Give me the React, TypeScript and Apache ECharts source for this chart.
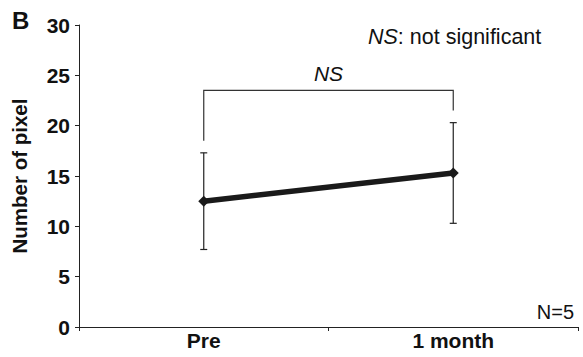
import React, { useEffect, useRef } from "react";
import * as echarts from "echarts";

const categories = ["Pre", "1 month"];
const means = [12.5, 15.3];
const sds = [4.8, 5.0];
const yTicks = [0, 5, 10, 15, 20, 25, 30];
// bracket: [leftCat, rightCat, leftBottom, rightBottom, top]
const bracket = [[0, 1, 18.5, 21.5, 23.5]];
const bracketLabel = "NS";

const FONT = '"Liberation Sans", Arial, Helvetica, sans-serif';

export default function App() {
  const ref = useRef<HTMLDivElement>(null);
  useEffect(() => {
    if (!ref.current) return;
    const chart = echarts.init(ref.current, undefined, { renderer: "svg" });
    const errData = means.map((m, i) => [i, m - sds[i], m + sds[i]]);
    chart.setOption({
      animation: false,
      backgroundColor: "#fff",
      textStyle: { fontFamily: FONT },
      grid: { left: 79, right: 5, top: 25, bottom: 30, containLabel: false },
      xAxis: {
        type: "category",
        data: categories,
        boundaryGap: true,
        axisLine: { lineStyle: { color: "#222", width: 1 } },
        axisTick: { show: true, length: 4, lineStyle: { color: "#222" } },
        axisLabel: {
          color: "#111",
          fontSize: 21,
          fontWeight: "bold",
          fontFamily: FONT,
          margin: 3,
        },
        splitLine: { show: false },
      },
      yAxis: {
        type: "value",
        min: yTicks[0],
        max: yTicks[yTicks.length - 1],
        interval: 5,
        name: "Number of pixel",
        nameLocation: "middle",
        nameGap: 49,
        nameTextStyle: {
          color: "#111",
          fontSize: 20.5,
          fontWeight: "bold",
          fontFamily: FONT,
        },
        axisLine: { show: true, lineStyle: { color: "#222", width: 1 } },
        axisTick: { show: true, length: 4, lineStyle: { color: "#222" } },
        axisLabel: {
          color: "#111",
          fontSize: 21,
          fontWeight: "bold",
          fontFamily: FONT,
          margin: 9,
        },
        splitLine: { show: false },
      },
      series: [
        {
          type: "custom",
          data: errData,
          z: 1,
          renderItem: (params: any, api: any) => {
            const x = api.value(0);
            const lo = api.coord([x, api.value(1)]);
            const hi = api.coord([x, api.value(2)]);
            const cw = 3.5;
            const style = { stroke: "#222", lineWidth: 1.2 };
            return {
              type: "group",
              children: [
                { type: "line", shape: { x1: lo[0], y1: lo[1], x2: hi[0], y2: hi[1] }, style },
                { type: "line", shape: { x1: lo[0] - cw, y1: lo[1], x2: lo[0] + cw, y2: lo[1] }, style },
                { type: "line", shape: { x1: hi[0] - cw, y1: hi[1], x2: hi[0] + cw, y2: hi[1] }, style },
              ],
            };
          },
        },
        {
          type: "line",
          data: means,
          z: 3,
          symbol: "diamond",
          symbolSize: 11,
          lineStyle: { color: "#1a1a1a", width: 5.5 },
          itemStyle: { color: "#1a1a1a" },
        },
        {
          type: "custom",
          data: bracket,
          z: 2,
          renderItem: (params: any, api: any) => {
            const l = api.value(0);
            const r = api.value(1);
            const pLB = api.coord([l, api.value(2)]);
            const pLT = api.coord([l, api.value(4)]);
            const pRT = api.coord([r, api.value(4)]);
            const pRB = api.coord([r, api.value(3)]);
            return {
              type: "group",
              children: [
                {
                  type: "polyline",
                  shape: { points: [pLB, pLT, pRT, pRB] },
                  style: { stroke: "#333", lineWidth: 1.2, fill: "none" },
                },
                {
                  type: "text",
                  x: (pLT[0] + pRT[0]) / 2,
                  y: pLT[1] - 6,
                  style: {
                    text: bracketLabel,
                    fontSize: 21,
                    fontStyle: "italic",
                    fontFamily: FONT,
                    fill: "#111",
                    align: "center",
                    verticalAlign: "bottom",
                  },
                },
              ],
            };
          },
        },
      ],
      graphic: [
        {
          type: "text",
          left: 12,
          top: 8,
          style: { text: "B", fontSize: 24, fontWeight: "bold", fontFamily: FONT, fill: "#111" },
        },
        {
          type: "text",
          left: 368,
          top: 26,
          style: {
            rich: {
              i: { fontSize: 21.5, fontStyle: "italic", fontFamily: FONT, fill: "#111" },
              n: { fontSize: 21.5, fontFamily: FONT, fill: "#111" },
            },
            text: "{i|NS}{n|: not significant}",
          },
        },
        {
          type: "text",
          right: 9,
          top: 302,
          style: { text: "N=5", fontSize: 20, fontFamily: FONT, fill: "#111" },
        },
      ],
    });
    return () => chart.dispose();
  }, []);
  return (
    <div
      ref={ref}
      style={{ position: "fixed", left: 0, top: 0, width: 583, height: 357, background: "#fff" }}
    />
  );
}
